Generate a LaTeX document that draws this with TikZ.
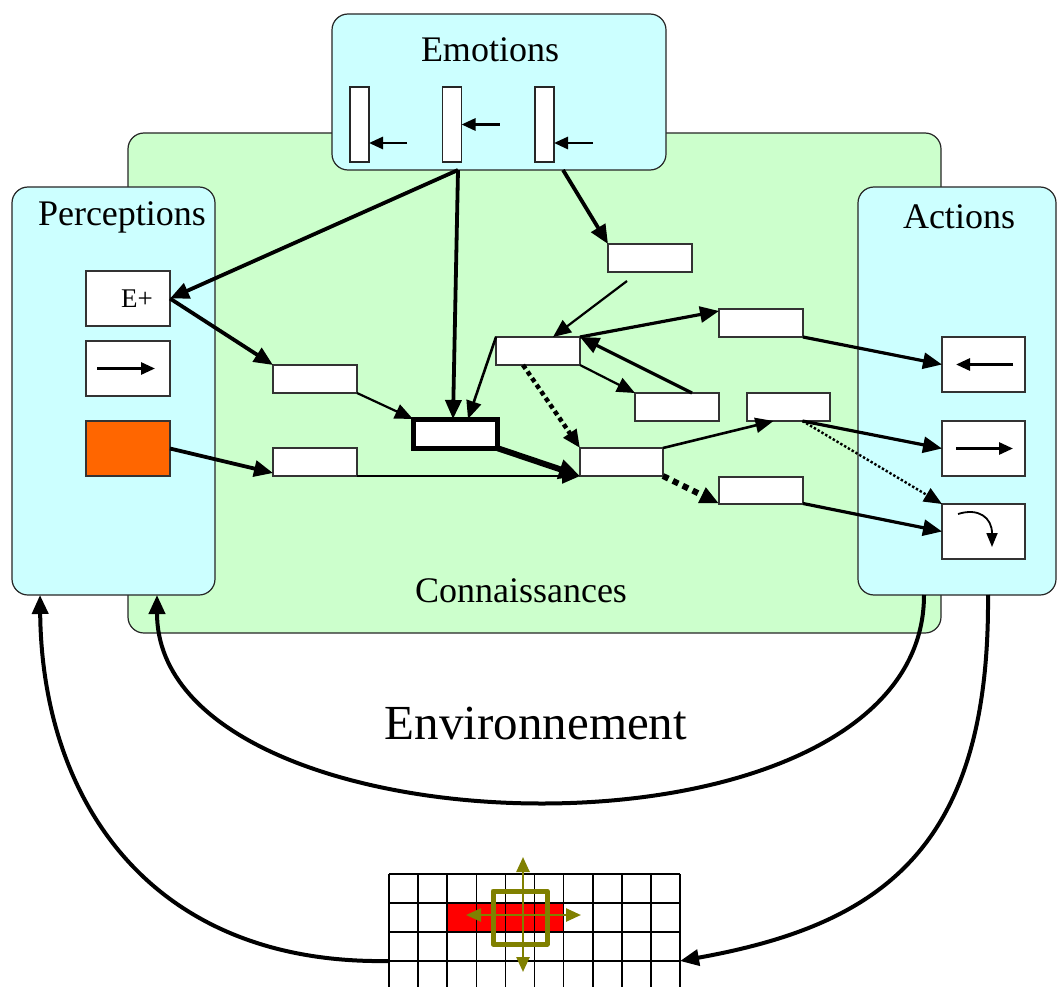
\documentclass[tikz,border=0pt]{standalone}
\usepackage{fontspec}
\setmainfont{Liberation Serif}
\usetikzlibrary{arrows.meta,calc}
\definecolor{cyanbg}{HTML}{CCFFFF}
\definecolor{greenbg}{HTML}{CCFFCC}
\definecolor{orangebox}{HTML}{FF6600}
\definecolor{olivec}{HTML}{808000}
\tikzset{
  panel/.style={draw=black!85, line width=1.2pt, rounded corners=16pt, inner sep=0, outer sep=0},
  kbox/.style={draw=black!80, fill=white, line width=2pt, minimum width=84pt, minimum height=28pt, inner sep=0, outer sep=0},
  pbox/.style={draw=black!80, fill=white, line width=1.6pt, minimum width=84pt, minimum height=55pt, inner sep=0, outer sep=0},
  bar/.style={draw=black!85, fill=white, line width=1.6pt, minimum width=19pt, minimum height=75pt, inner sep=0, outer sep=0},
  arr/.style={-{Triangle[length=19pt,width=16pt]}, line width=3.2pt},
  arrthin/.style={-{Triangle[length=18pt,width=15pt]}, line width=2.2pt},
  arrbig/.style={-{Triangle[length=21pt,width=19pt]}, line width=6pt},
  small/.style={-{Triangle[length=14pt,width=12pt]}, line width=2.8pt},
  lbl/.style={font=\fontsize{36}{40}\selectfont, inner sep=0},
}
\begin{document}
\begin{tikzpicture}[x=1pt,y=-1pt]
\useasboundingbox (0,0) rectangle (1057,987);
\fill[white] (0,0) rectangle (1057,987);
% containers
\node[panel, fill=greenbg, minimum width=813pt, minimum height=500pt] (know) at (534.5,383) {};
\node[panel, fill=cyanbg, minimum width=334pt, minimum height=156pt] (emo) at (499,92) {};
\node[panel, fill=cyanbg, minimum width=203pt, minimum height=408pt] (perc) at (113.5,391) {};
\node[panel, fill=cyanbg, minimum width=198pt, minimum height=408pt] (act) at (957,391) {};
% labels
\node[lbl] (tEmo) at (490,50) {Emotions};
\node[lbl] (tPerc) at (122,217) {Perceptions};
\node[lbl] (tAct) at (959,217) {Actions};
\node[lbl] (tKnow) at (521,591) {Connaissances};
\node[inner sep=0, font=\fontsize{49}{54}\selectfont] (tEnv) at (536,724) {Environnement};
% emotion bars
\node[bar] (bar1) at (359.5,124.5) {};
\node[bar] (bar2) at (452,124.5) {};
\node[bar] (bar3) at (544.5,124.5) {};
\draw[small] ([shift={(38pt,-18.5pt)}]bar1.east) -- ([yshift=-18.5pt]bar1.east);
\draw[small] ([xshift=38pt]bar2.east) -- (bar2.east);
\draw[small] ([shift={(39pt,-18.5pt)}]bar3.east) -- ([yshift=-18.5pt]bar3.east);
% perception boxes
\node[pbox, font=\fontsize{27}{30}\selectfont] (eplus) at (128,298.5) {\hspace*{18pt}E+};
\node[pbox] (parr) at (128,368.5) {};
\node[pbox, fill=orangebox] (orange) at (128,448.5) {};
\draw[small] ([xshift=-31pt]parr.center) -- ([xshift=27pt]parr.center);
% action boxes
\node[pbox, minimum width=83pt] (a1) at (983.5,364.5) {};
\node[pbox, minimum width=83pt] (a2) at (983.5,448.5) {};
\node[pbox, minimum width=83pt] (a3) at (983.5,531.5) {};
\draw[small] ([xshift=29.5pt]a1.center) -- ([xshift=-27.5pt]a1.center);
\draw[small] ([xshift=-27.5pt]a2.center) -- ([xshift=29.5pt]a2.center);
\draw[-{Triangle[length=14pt,width=11pt]}, line width=1.8pt] ($(a3.center)+(-25.5,-17.5)$) .. controls ($(a3.center)+(-5,-24)$) and ($(a3.center)+(8.5,-14)$) .. ($(a3.center)+(8.5,15.5)$);
% knowledge boxes
\node[kbox] (ktop) at (650,258) {};
\node[kbox] (kA) at (538,351) {};
\node[kbox] (kB) at (761,323) {};
\node[kbox] (kC) at (677,407) {};
\node[kbox, minimum width=83pt] (kD) at (788.5,407) {};
\node[kbox, minimum width=83pt] (kE) at (621.5,462) {};
\node[kbox, minimum height=27pt] (kF) at (761,490) {};
\node[kbox] (kG) at (315,379) {};
\node[kbox] (kH) at (315,462) {};
\node[kbox, line width=5pt, draw=black, minimum height=29pt] (bold) at (455,433.5) {};
% connectors
\draw[arr, line width=3.8pt] ([xshift=-41pt]emo.south) -- (eplus.east);
\draw[arr, line width=3.8pt] ([xshift=-41pt]emo.south) -- ([xshift=-2pt]bold.north);
\draw[arr, line width=3.8pt] ([xshift=64pt]emo.south) -- (ktop.north west);
\draw[arr, line width=3.8pt] (eplus.east) -- (kG.north west);
\draw[arrthin] (kG.south east) -- (bold.north west);
\draw[arr, line width=3.8pt] (orange.east) -- ([yshift=3pt]kH.south west);
\draw[arrthin] (kH.south east) -- (kE.south west);
\draw[arrbig] (bold.south east) -- (kE.south west);
\draw[arrthin] ([shift={(-23pt,-9pt)}]ktop.south) -- ([xshift=15pt]kA.north);
\draw[arrthin, line width=2.6pt] (kA.north west) -- ([xshift=13pt]bold.north);
\draw[arr] (kA.north east) -- ([yshift=-2pt]kB.north west);
\draw[arr] ([xshift=15pt]kC.north) -- (kA.north east);
\draw[arrthin] (kA.south east) -- (kC.north west);
\draw[-{Triangle[length=18pt,width=15pt]}, line width=4.5pt, dash pattern=on 4.5pt off 3.5pt] ([xshift=-15pt]kA.south) -- (kE.north west);
\draw[arrthin, line width=2.6pt] (kE.north east) -- ([xshift=-15pt]kD.south);
\draw[-{Triangle[length=19pt,width=16pt]}, line width=6pt, dash pattern=on 6pt off 5pt] (kE.south east) -- (kF.south west);
\draw[arr] (kB.south east) -- (a1.west);
\draw[arr] ([xshift=14pt]kD.south) -- (a2.west);
\draw[-{Triangle[length=18pt,width=15pt]}, line width=2.4pt, dash pattern=on 2.4pt off 2pt] ([xshift=14pt]kD.south) -- (a3.north west);
\draw[arr] (kF.south east) -- (a3.west);
% grid
\fill[red] (447,903) rectangle (563,932);
\foreach \yy in {874,903,932,961} \draw[line width=1.6pt] (389,\yy) -- (680,\yy);
\foreach \i in {0,...,10} \draw[line width=1.6pt] ({389+29.1*\i},874) -- ({389+29.1*\i},990);
\coordinate (gridL) at (389,961);
\coordinate (gridR) at (680,961);
\draw[olivec, line width=5pt, line join=round] (493,891) rectangle (547,944);
\draw[olivec, line width=2.5pt, {Triangle[length=15pt,width=13pt]}-{Triangle[length=15pt,width=13pt]}] (523,857) -- (523,972);
\draw[olivec, line width=2.5pt, {Triangle[length=15pt,width=13pt]}-{Triangle[length=15pt,width=13pt]}] (466,915) -- (581,915);
% environment loops
\draw[arr, line width=4pt] ([xshift=-33pt]act.south) .. controls (924,880) and (157,860) .. ([xshift=43.5pt]perc.south);
\draw[arr, line width=4pt] ([xshift=31pt]act.south) .. controls (990,850) and (880,925) .. (gridR);
\draw[arr, line width=4pt] (gridL) .. controls (150,965) and (42,800) .. ([xshift=-73.5pt]perc.south);
\end{tikzpicture}
\end{document}
